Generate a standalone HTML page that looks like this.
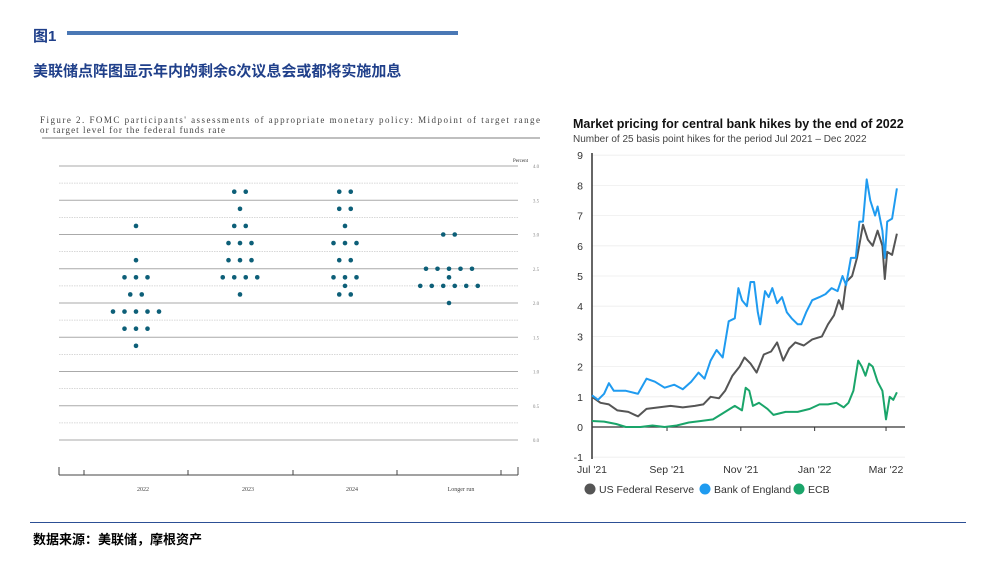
<!DOCTYPE html>
<html><head><meta charset="utf-8">
<style>
body{margin:0;width:999px;height:578px;background:#fff;position:relative;overflow:hidden;font-family:"Liberation Sans","Noto Sans CJK SC",sans-serif}
.abs{position:absolute}
</style></head>
<body>
<div class="abs" style="left:33px;top:25px;font-size:15px;font-weight:bold;color:#1f3f8a">图1</div>
<div class="abs" style="left:67px;top:31px;width:391px;height:4px;background:#4a78b5"></div>
<div class="abs" style="left:33px;top:60px;font-size:15px;font-weight:bold;color:#1f3f8a">美联储点阵图显示年内的剩余6次议息会或都将实施加息</div>
<div class="abs" style="left:30px;top:522px;width:936px;height:1px;background:#2c4f95"></div>
<div class="abs" style="left:33px;top:529px;font-size:13px;font-weight:bold;color:#000">数据来源：美联储，摩根资产</div>

<svg class="abs" style="left:0;top:0" width="999" height="578">
<g id="dot"></g>
<g id="line"></g>
</svg>
<script>
// ---- dot plot data ----
const dotCols = ["2022","2023","2024","Longer run"];
const dots2022 = [[3.125,1],[2.625,1],[2.375,3],[2.125,2],[1.875,5],[1.625,3],[1.375,1]];
const dots2023 = [[3.625,2],[3.375,1],[3.125,2],[2.875,3],[2.625,3],[2.375,4],[2.125,1]];
const dots2024 = [[3.625,2],[3.375,2],[3.125,1],[2.875,3],[2.625,2],[2.375,3],[2.25,1],[2.125,2]];
const dotsLong = [[3.0,2],[2.5,5],[2.375,1],[2.25,6],[2.0,1]];
const dotTicks = ["0.0","0.5","1.0","1.5","2.0","2.5","3.0","3.5","4.0"];
// ---- line chart data (day offset from 1 Jul 2021, value) ----
const fedDays=[0,7,14,21,30,38,45,55,65,75,85,92,98,105,110,116,122,126,131,136,142,148,153,158,163,168,175,182,190,195,200,204,207,210,215,219,224,228,232,236,240,242,244,248,252];
const fedVals=[1.0,0.8,0.75,0.55,0.5,0.35,0.6,0.65,0.7,0.65,0.7,0.75,1.0,0.95,1.2,1.7,2.0,2.3,2.1,1.8,2.4,2.5,2.8,2.2,2.6,2.8,2.7,2.9,3.0,3.4,3.7,4.2,3.9,4.8,5.0,5.6,6.7,6.2,6.0,6.5,6.0,4.9,5.8,5.7,6.4];
const boeDays=[0,5,10,14,18,28,38,45,52,60,68,75,82,88,93,98,103,108,113,118,121,124,128,131,134,137,139,143,146,149,153,157,161,165,170,173,177,182,188,193,198,203,207,210,214,218,221,224,227,230,234,236,240,242,244,248,252];
const boeVals=[1.05,0.9,1.1,1.45,1.2,1.2,1.1,1.6,1.5,1.3,1.4,1.25,1.5,1.8,1.6,2.2,2.55,2.3,3.5,3.6,4.6,4.2,4.0,4.8,4.8,3.8,3.4,4.5,4.3,4.6,4.1,4.3,3.8,3.6,3.4,3.4,3.8,4.2,4.3,4.4,4.6,4.5,5.0,4.7,5.6,5.6,6.8,6.8,8.2,7.5,7.0,7.3,6.5,5.6,6.8,6.9,7.9];
const ecbDays=[0,10,20,28,40,50,60,70,80,90,100,108,114,118,124,127,130,133,138,145,150,155,160,170,180,188,195,202,208,212,216,220,223,226,229,232,236,240,243,246,249,252];
const ecbVals=[0.2,0.18,0.1,0.0,0.0,0.05,0.0,0.05,0.15,0.2,0.25,0.45,0.6,0.7,0.55,1.3,1.2,0.7,0.8,0.6,0.4,0.45,0.5,0.5,0.6,0.75,0.75,0.8,0.65,0.8,1.2,2.2,2.0,1.7,2.1,2.0,1.5,1.2,0.25,1.0,0.9,1.15];
const yTicks=["-1","0","1","2","3","4","5","6","7","8","9"];
const xLabels=["Jul '21","Sep '21","Nov '21","Jan '22","Mar '22"];
const xLabelDays=[0,62,123,184,243];
const legendNames=["US Federal Reserve","Bank of England","ECB"];

const NS="http://www.w3.org/2000/svg";
function mk(p,tag,a,txt){const e=document.createElementNS(NS,tag);for(const k in a)e.setAttribute(k,a[k]);if(txt!=null)e.textContent=txt;p.appendChild(e);return e;}

// ---- dot plot ----
const D=document.getElementById('dot');
const dy=v=>440-v*68.5;
const colX=[136,240,345,449];
mk(D,'text',{x:40,y:123,'font-family':'Liberation Serif','font-size':9,fill:'#444',textLength:500,lengthAdjust:'spacing'},"Figure 2.  FOMC participants' assessments of appropriate monetary policy:  Midpoint of target range");
mk(D,'text',{x:40,y:133,'font-family':'Liberation Serif','font-size':9,fill:'#444',textLength:185,lengthAdjust:'spacing'},"or target level for the federal funds rate");
mk(D,'line',{x1:42,x2:540,y1:138,y2:138,stroke:'#999','stroke-width':1.2});
mk(D,'text',{x:528,y:162,'font-family':'Liberation Serif','font-size':5,fill:'#333','text-anchor':'end'},"Percent");
for(let i=0;i<=16;i++){const v=i*0.25;const y=dy(v);
 const l=mk(D,'line',{x1:59,x2:518,y1:y,y2:y,stroke:i%2==0?'#aaa':'#ccc','stroke-width':i%2==0?0.9:0.7,'stroke-dasharray':i%2==0?'':'1.5,1'});
 }
dotTicks.forEach((t,i)=>mk(D,'text',{x:536,y:dy(i*0.5)+2,'font-family':'Liberation Serif','font-size':5,fill:'#888','text-anchor':'middle'},t));
mk(D,'line',{x1:59,x2:518,y1:475,y2:475,stroke:'#444','stroke-width':1});
[59,84,188,293,397,501,518].forEach(x=>mk(D,'line',{x1:x,x2:x,y1:475,y2:x==59||x==518?467:470,stroke:'#444','stroke-width':1}));
dotCols.forEach((c,i)=>{const t=mk(D,'text',{x:[143,248,352,461][i],y:491,'font-family':'Liberation Serif','font-size':6,fill:'#444','text-anchor':'middle'},c);});
[dots2022,dots2023,dots2024,dotsLong].forEach((arr,ci)=>{arr.forEach(([v,n])=>{for(let k=0;k<n;k++){const x=colX[ci]+(k-(n-1)/2)*11.5;
 const c=mk(D,'circle',{cx:x,cy:dy(v),r:2.3,fill:'#0d5f78'});}});});

// ---- line chart ----
const L=document.getElementById('line');
const ly=v=>427-v*30.2;
const lx=d=>592+d*1.21;
mk(L,'text',{x:573,y:128,'font-size':12.5,'font-weight':'bold',fill:'#111'},"Market pricing for central bank hikes by the end of 2022");
mk(L,'text',{x:573,y:142,'font-size':10,fill:'#444'},"Number of 25 basis point hikes for the period Jul 2021 – Dec 2022");
yTicks.forEach(t=>{const v=+t;const y=ly(v);
 if(v!==0)mk(L,'line',{x1:592,x2:905,y1:y,y2:y,stroke:'#eee','stroke-width':0.8});
 const e=mk(L,'text',{x:583,y:y+4,'font-size':10.5,fill:'#333','text-anchor':'end'},t);});
mk(L,'line',{x1:592,x2:592,y1:153,y2:459,stroke:'#333','stroke-width':1.5});
mk(L,'line',{x1:592,x2:905,y1:ly(0),y2:ly(0),stroke:'#333','stroke-width':1.2});
xLabels.forEach((t,i)=>{const x=lx(xLabelDays[i]);mk(L,'line',{x1:x,x2:x,y1:ly(0),y2:ly(0)+4,stroke:'#333'});
 const e=mk(L,'text',{x:x,y:473,'font-size':10.5,fill:'#333','text-anchor':'middle'},t);});
const series=[[ecbDays,ecbVals,'#1aa56a','ecb-line'],[fedDays,fedVals,'#555555','fed-line'],[boeDays,boeVals,'#1f9bf0','boe-line']];
series.forEach(([d,v,c,n])=>{const p=mk(L,'polyline',{points:d.map((x,i)=>lx(x).toFixed(1)+','+ly(v[i]).toFixed(1)).join(' '),fill:'none',stroke:c,'stroke-width':2,'stroke-linejoin':'round'});
 });
const legC=['#555555','#1f9bf0','#1aa56a'];const legX=[590,705,799];
legendNames.forEach((t,i)=>{const g=mk(L,'g',{});
 mk(g,'circle',{cx:legX[i],cy:489,r:5.5,fill:legC[i]});mk(g,'text',{x:legX[i]+9,y:493,'font-size':10.5,fill:'#333'},t);});
</script>
</body></html>
